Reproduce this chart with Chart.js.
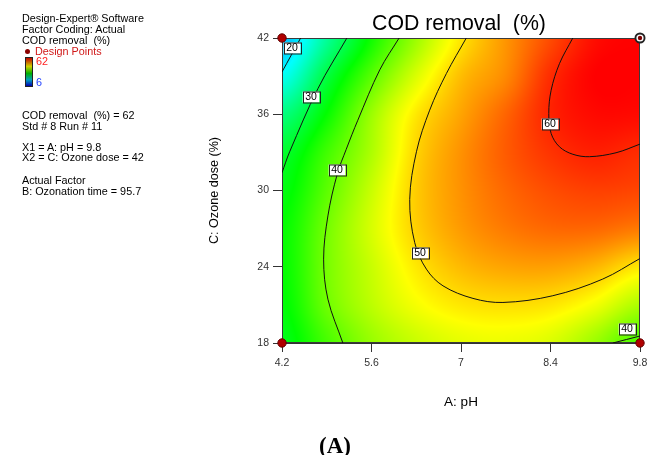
<!DOCTYPE html>
<html>
<head>
<meta charset="utf-8">
<script src="https://cdn.jsdelivr.net/npm/chart.js@4.4.1/dist/chart.umd.min.js"></script>
<style>
  html,body{margin:0;padding:0;background:#fff;}
  #wrap{position:relative;width:654px;height:455px;overflow:hidden;font-family:"Liberation Sans",Arial,sans-serif;}
  canvas{position:absolute;left:0;top:0;}
  .t{position:absolute;left:22px;font-size:10.8px;line-height:12px;height:12px;white-space:pre;color:#000;}
  .red{color:#d01818;}
  #bar{position:absolute;left:25px;top:57px;width:6px;height:28px;border:1px solid #222;
       background:linear-gradient(to bottom,#c00000,#d0d000 30%,#00b000 55%,#00a0c0 78%,#0000b0);}
  #title{position:absolute;left:280px;width:358px;top:11px;text-align:center;font-size:21.3px;line-height:24px;white-space:pre;color:#000;}
  #cap{position:absolute;left:319px;top:433px;font-family:"Liberation Serif","Times New Roman",serif;font-weight:bold;font-size:23px;line-height:26px;}
</style>
</head>
<body>
<div id="wrap">
  <canvas id="c" width="654" height="455"></canvas>
  <div id="title">COD removal  (%)</div>
  <div class="t" style="top:12px">Design-Expert® Software</div>
  <div class="t" style="top:23px">Factor Coding: Actual</div>
  <div class="t" style="top:34px">COD removal  (%)</div>
  <div class="t red" style="top:45px;left:35px">Design Points</div>
  <div style="position:absolute;left:25px;top:49px;width:5px;height:5px;border-radius:50%;background:#8a0000;"></div>
  <div id="bar"></div>
  <div class="t" style="top:55px;left:36px;color:#ff2020">62</div>
  <div class="t" style="top:76px;left:36px;color:#2040ff">6</div>
  <div class="t" style="top:109px">COD removal  (%) = 62</div>
  <div class="t" style="top:120px">Std # 8 Run # 11</div>
  <div class="t" style="top:141px">X1 = A: pH = 9.8</div>
  <div class="t" style="top:151px">X2 = C: Ozone dose = 42</div>
  <div class="t" style="top:174px">Actual Factor</div>
  <div class="t" style="top:185px">B: Ozonation time = 95.7</div>
  <div id="cap">(A)</div>
</div>
<script>
// ---- Data ----
const xTicks = [4.2, 5.6, 7.0, 8.4, 9.8];
const xTickLabels = ['4.2', '5.6', '7', '8.4', '9.8'];
const yTicks = [18, 24, 30, 36, 42];
const yTickLabels = ['18', '24', '30', '36', '42'];

// response grid (COD removal %) : columns = pH, rows = ozone dose
const gridPH = [4.2, 4.9, 5.6, 6.3, 7.0, 7.7, 8.4, 9.1, 9.8];
const gridDose = [18, 21, 24, 27, 30, 33, 36, 39, 42];
const row18 = [32.5, 37.8, 42.3, 45.0, 46.6, 47.0, 46.0, 42.5, 38.0];
const row21 = [33.5, 40.0, 44.3, 47.5, 49.3, 49.8, 49.4, 47.3, 43.5];
const row24 = [34.0, 40.5, 45.0, 49.2, 51.8, 53.0, 53.2, 52.0, 49.3];
const row27 = [34.0, 40.3, 45.8, 50.6, 53.5, 55.3, 56.3, 56.3, 55.3];
const row30 = [33.0, 39.0, 45.0, 50.8, 54.0, 56.3, 57.8, 58.5, 58.2];
const row33 = [31.3, 37.5, 43.5, 50.3, 54.0, 57.0, 59.2, 60.3, 59.6];
const row36 = [27.0, 34.2, 42.5, 49.2, 53.0, 56.5, 60.1, 61.5, 61.5];
const row39 = [20.5, 30.5, 38.8, 46.0, 51.6, 54.5, 59.6, 62.0, 62.0];
const row42 = [16.0, 25.6, 34.8, 42.6, 49.3, 53.8, 57.9, 61.3, 62.0];
const colorMin = 6, colorMax = 62;

// contour lines [pH, dose]
const contour20 = [[4.492, 42], [4.2, 39.33]];
const contour30 = [[5.215, 42], [4.762, 38.02], [4.32, 33.05], [4.2, 31.4]];
const contour40a = [[6.032, 42], [5.73, 39.5], [5.386, 35.53], [5.204, 33.23], [5.063, 31.27], [4.918, 28.0], [4.851, 24.6], [4.918, 21.45], [5.152, 18]];
const contour50 = [[7.083, 42], [6.771, 39.2], [6.51, 36.32], [6.303, 33.05], [6.198, 29.3], [6.276, 25.9], [6.459, 23.81], [6.718, 22.5], [7.187, 21.51], [7.656, 21.19], [8.436, 21.72], [9.217, 23.03], [9.8, 24.65]];
const contour60 = [[8.749, 42], [8.54, 39.98], [8.41, 37.89], [8.373, 36.06], [8.41, 34.49], [8.54, 33.44], [8.75, 32.85], [9.009, 32.66], [9.425, 32.97], [9.8, 33.65]];
const contour40b = [[9.375, 18], [9.8, 18.55]];

// contour labels
const labelText = ['20', '30', '40', '50', '60', '40'];
const labelPH = [4.356, 4.648, 5.059, 6.366, 8.395, 9.59];
const labelDose = [41.24, 37.37, 31.6, 25.12, 35.22, 19.1];

// design points
const designPH = [4.2, 4.2, 9.8];
const designDose = [42, 18, 18];
const selectedPH = [9.8];
const selectedDose = [42];

const gridRows = [row18, row21, row24, row27, row30, row33, row36, row39, row42];

// ---- helpers ----
function colorFor(v) {
  const stops = [[0, 0, 255], [0, 255, 255], [0, 255, 0], [255, 255, 0], [255, 0, 0]];
  let t = (v - colorMin) / (colorMax - colorMin);
  t = Math.max(0, Math.min(1, t)) * 4;
  const i = Math.min(3, Math.floor(t));
  const f = t - i;
  return stops[i].map((c, k) => Math.round(c + (stops[i + 1][k] - c) * f));
}
function cr(p0, p1, p2, p3, t) {
  return 0.5 * ((2 * p1) + (-p0 + p2) * t + (2 * p0 - 5 * p1 + 4 * p2 - p3) * t * t + (-p0 + 3 * p1 - 3 * p2 + p3) * t * t * t);
}
function sampleGrid(ph, dose) {
  const nx = gridPH.length, ny = gridDose.length;
  const gx = (ph - gridPH[0]) / (gridPH[1] - gridPH[0]);
  const gy = (dose - gridDose[0]) / (gridDose[1] - gridDose[0]);
  let ix = Math.min(nx - 2, Math.max(0, Math.floor(gx)));
  let iy = Math.min(ny - 2, Math.max(0, Math.floor(gy)));
  const tx = gx - ix, ty = gy - iy;
  const g = (r, c) => gridRows[Math.min(ny - 1, Math.max(0, r))][Math.min(nx - 1, Math.max(0, c))];
  const rowsV = [];
  for (let r = iy - 1; r <= iy + 2; r++) {
    rowsV.push(cr(g(r, ix - 1), g(r, ix), g(r, ix + 1), g(r, ix + 2), tx));
  }
  return cr(rowsV[0], rowsV[1], rowsV[2], rowsV[3], ty);
}
const toXY = arr => arr.map(p => ({x: p[0], y: p[1]}));
const zip = (xs, ys) => xs.map((v, i) => ({x: v, y: ys[i]}));

const heatPlugin = {
  id: 'heat',
  beforeDatasetsDraw(chart) {
    const {ctx, chartArea: a, scales: {x, y}} = chart;
    const w = Math.round(a.right - a.left), h = Math.round(a.bottom - a.top);
    const off = document.createElement('canvas');
    off.width = w; off.height = h;
    const octx = off.getContext('2d');
    const img = octx.createImageData(w, h);
    for (let py = 0; py < h; py++) {
      const dv = y.getValueForPixel(a.top + py + 0.5);
      for (let px = 0; px < w; px++) {
        const pv = x.getValueForPixel(a.left + px + 0.5);
        const c = colorFor(sampleGrid(pv, dv));
        const k = (py * w + px) * 4;
        img.data[k] = c[0]; img.data[k + 1] = c[1]; img.data[k + 2] = c[2]; img.data[k + 3] = 255;
      }
    }
    octx.putImageData(img, 0, 0);
    ctx.save();
    ctx.drawImage(off, a.left, a.top);
    ctx.strokeStyle = '#3a3a3a';
    ctx.lineWidth = 1;
    ctx.strokeRect(Math.round(a.left) + 0.5, Math.round(a.top) + 0.5, w - 1, h - 1);
    ctx.restore();
  }
};

const labelPlugin = {
  id: 'clabels',
  afterDatasetsDraw(chart) {
    const {ctx, scales: {x, y}} = chart;
    ctx.save();
    ctx.font = '10.5px "Liberation Sans", Arial, sans-serif';
    ctx.textAlign = 'center';
    ctx.textBaseline = 'middle';
    labelText.forEach((t, i) => {
      const px = Math.round(x.getPixelForValue(labelPH[i]));
      const py = Math.round(y.getPixelForValue(labelDose[i]));
      const tw = ctx.measureText(t).width + 5;
      const th = 11;
      ctx.fillStyle = '#fff';
      ctx.fillRect(px - tw / 2, py - th / 2, tw, th);
      ctx.strokeStyle = '#222';
      ctx.lineWidth = 1;
      ctx.strokeRect(Math.round(px - tw / 2) + 0.5, py - th / 2 + 0.5, Math.round(tw), th);
      ctx.fillStyle = '#000';
      ctx.fillText(t, px, py + 0.5);
    });
    ctx.restore();
  }
};

const lineDs = (pts) => ({
  data: toXY(pts), showLine: true, borderColor: '#111', borderWidth: 1,
  pointRadius: 0, tension: 0.35, fill: false
});

new Chart(document.getElementById('c'), {
  type: 'scatter',
  data: {
    datasets: [
      {data: zip(selectedPH, selectedDose), pointRadius: 2.2, pointBackgroundColor: '#7a0000', pointBorderWidth: 0, clip: false},
      {data: zip(selectedPH, selectedDose), pointRadius: 3.6, pointBackgroundColor: '#ffffff', pointBorderWidth: 0, clip: false},
      {data: zip(selectedPH, selectedDose), pointRadius: 5.5, pointBackgroundColor: '#222', pointBorderWidth: 0, clip: false},
      {data: zip(designPH, designDose), pointRadius: 4.2, pointBackgroundColor: '#b00000', pointBorderColor: '#600000', pointBorderWidth: 1, clip: false},
      lineDs(contour20), lineDs(contour30), lineDs(contour40a), lineDs(contour50), lineDs(contour60), lineDs(contour40b)
    ]
  },
  options: {
    responsive: false,
    animation: false,
    events: [],
    layout: {padding: {left: 200, right: 14, top: 38, bottom: 40}},
    plugins: {
      legend: {display: false},
      tooltip: {enabled: false},
      title: {display: false}
    },
    scales: {
      x: {
        type: 'linear', min: 4.2, max: 9.8,
        afterBuildTicks: s => { s.ticks = xTicks.map(v => ({value: v})); },
        afterFit: s => { s.height = 72; },
        ticks: {
          autoSkip: false, maxRotation: 0, padding: 5, color: '#333',
          font: {size: 10.5, family: '"Liberation Sans", Arial, sans-serif'},
          callback: (v) => { const i = xTicks.findIndex(t => Math.abs(t - v) < 1e-6); return i >= 0 ? xTickLabels[i] : ''; }
        },
        grid: {drawOnChartArea: false, drawTicks: true, tickLength: 9, color: '#333'},
        border: {display: true, color: '#333'},
        title: {display: true, text: 'A: pH', color: '#000', font: {size: 13.5, family: '"Liberation Sans", Arial, sans-serif'}, padding: {top: 4, bottom: 5}}
      },
      y: {
        type: 'linear', min: 18, max: 42,
        afterBuildTicks: s => { s.ticks = yTicks.map(v => ({value: v})); },
        afterFit: s => { s.width = 82; },
        ticks: {
          autoSkip: false, padding: 4, color: '#333',
          font: {size: 10.5, family: '"Liberation Sans", Arial, sans-serif'},
          callback: (v) => { const i = yTicks.findIndex(t => Math.abs(t - v) < 1e-6); return i >= 0 ? yTickLabels[i] : ''; }
        },
        grid: {drawOnChartArea: false, drawTicks: true, tickLength: 9, color: '#333'},
        border: {display: true, color: '#333'},
        title: {display: true, text: 'C: Ozone dose (%)', color: '#000', font: {size: 12.6, family: '"Liberation Sans", Arial, sans-serif'}, padding: {top: 7, bottom: 4}}
      }
    }
  },
  plugins: [heatPlugin, labelPlugin]
});
</script>
</body>
</html>
